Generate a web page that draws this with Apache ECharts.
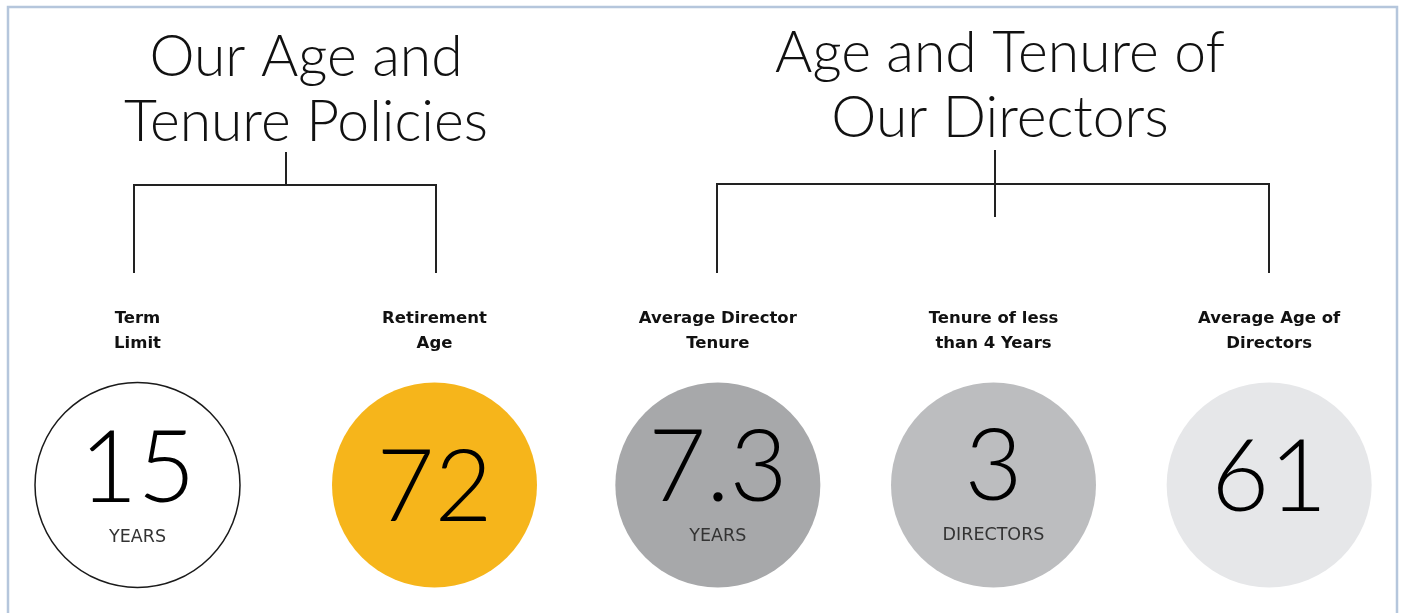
<!DOCTYPE html>
<html>
<head>
<meta charset="utf-8">
<script src="https://cdn.jsdelivr.net/npm/echarts@6/dist/echarts.min.js"></script>
<style>
  html, body { margin: 0; padding: 0; background: #fff; }
  #main { width: 1403px; height: 613px; }
</style>
</head>
<body>
<div id="main"></div>
<script>
// policies (left group)
var policyLabels = ['Term\nLimit', 'Retirement\nAge'];
var policyValues = ['15', '72'];
var policyUnits = ['YEARS', ''];

// directors (right group)
var directorLabels = ['Average Director\nTenure', 'Tenure of less\nthan 4 Years', 'Average Age of\nDirectors'];
var directorValues = ['7.3', '3', '61'];
var directorUnits = ['YEARS', 'DIRECTORS', ''];

var policyColors = ['#ffffff', '#f6b51b'];
var directorColors = ['#a7a8aa', '#bcbdbf', '#e6e7e9'];
// small vertical nudges of the number text, per circle
var policyNudge = [0, 4];
var directorNudge = [-1, -2, -6];

var numFont = 'Lato';
var headFont = 'DejaVu Sans';

function buildData(values, units, colors, nudge) {
    return values.map(function (v, i) {
        var outlined = colors[i] === '#ffffff';
        return {
            value: [i, 0],
            itemStyle: {
                color: colors[i],
                opacity: 1,
                borderColor: outlined ? '#1a1a1a' : colors[i],
                borderWidth: outlined ? 1.5 : 0
            },
            label: {
                offset: [0, nudge[i]],
                formatter: units[i] ? '{num|' + v + '}\n{unit|' + units[i] + '}' : '{num|' + v + '}'
            }
        };
    });
}

var labelStyle = {
    show: true,
    position: 'inside',
    rich: {
        num: { fontFamily: numFont, fontWeight: 300, fontSize: 100, lineHeight: 104, color: '#000' },
        unit: { fontFamily: 'DejaVu Sans', fontSize: 17.5, lineHeight: 30, color: '#333' }
    }
};

function xAxisFor(gridIndex, labels) {
    return {
        gridIndex: gridIndex,
        type: 'category',
        position: 'top',
        data: labels,
        axisLine: { show: false },
        axisTick: { show: false },
        axisLabel: {
            margin: 29,
            fontFamily: headFont,
            fontWeight: 'bold',
            fontSize: 16.5,
            lineHeight: 25,
            color: '#111'
        }
    };
}

function yAxisFor(gridIndex) {
    return { gridIndex: gridIndex, type: 'value', min: -1, max: 1, show: false };
}

var myChart = echarts.init(document.getElementById('main'));

var titleStyle = { fontFamily: numFont, fontWeight: 300, fontSize: 57, lineHeight: 65, color: '#111' };

var option = {
    backgroundColor: '#ffffff',
    animation: false,
    title: [
        { text: 'Our Age and\nTenure Policies', left: 301, top: 20, textAlign: 'center', textStyle: titleStyle },
        { text: 'Age and Tenure of\nOur Directors', left: 995, top: 16, textAlign: 'center', textStyle: titleStyle }
    ],
    grid: [
        { left: -11, width: 594, top: 385, bottom: 28, outerBoundsMode: 'none', containLabel: false },
        { left: 580, width: 827, top: 385, bottom: 28, outerBoundsMode: 'none', containLabel: false }
    ],
    xAxis: [xAxisFor(0, policyLabels), xAxisFor(1, directorLabels)],
    yAxis: [yAxisFor(0), yAxisFor(1)],
    series: [
        {
            type: 'scatter', xAxisIndex: 0, yAxisIndex: 0,
            symbolSize: 205, silent: true,
            label: labelStyle,
            data: buildData(policyValues, policyUnits, policyColors, policyNudge)
        },
        {
            type: 'scatter', xAxisIndex: 1, yAxisIndex: 1,
            symbolSize: 205, silent: true,
            label: labelStyle,
            data: buildData(directorValues, directorUnits, directorColors, directorNudge)
        }
    ],
    graphic: [
        {
            type: 'rect', silent: true,
            shape: { x: 8, y: 7, width: 1389, height: 640 },
            style: { fill: null, stroke: '#b5c6dc', lineWidth: 2.5 }
        },
        // left bracket
        { type: 'polyline', silent: true, shape: { points: [[134, 273], [134, 185], [436, 185], [436, 273]] }, style: { stroke: '#222', lineWidth: 2, fill: null } },
        { type: 'line', silent: true, shape: { x1: 286, y1: 152, x2: 286, y2: 185 }, style: { stroke: '#222', lineWidth: 2 } },
        // right bracket
        { type: 'polyline', silent: true, shape: { points: [[717, 273], [717, 184], [1269, 184], [1269, 273]] }, style: { stroke: '#222', lineWidth: 2, fill: null } },
        { type: 'line', silent: true, shape: { x1: 995, y1: 150, x2: 995, y2: 217 }, style: { stroke: '#222', lineWidth: 2 } }
    ]
};

myChart.setOption(option);
</script>
</body>
</html>
